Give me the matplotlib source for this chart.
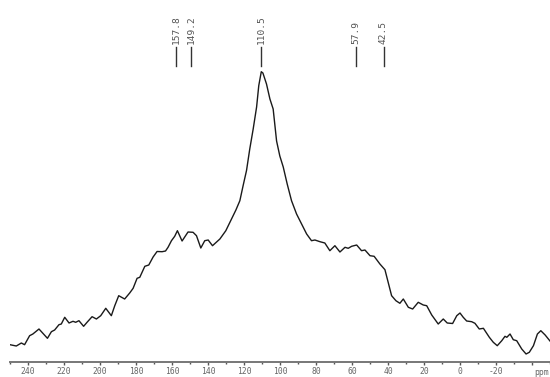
import numpy as np
import matplotlib.pyplot as plt
from matplotlib.ticker import MultipleLocator

# chemical shift (ppm) and intensity (arbitrary units)
ppm = [250.0, 246.5, 243.7, 241.9, 239.1, 237.3, 233.9, 231.7, 229.2, 227.0,
       225.2, 222.8, 221.5, 219.6, 217.2, 215.0, 213.5, 211.7, 209.1, 207.2,
       204.4, 202.0, 199.6, 196.8, 193.7, 191.8, 189.6, 186.3, 183.5, 181.6,
       179.4, 177.9, 175.1, 172.9, 170.5, 168.3, 165.5, 163.6, 162.2, 160.3,
       158.5, 157.0, 154.4, 151.1, 148.3, 146.4, 144.0, 141.8, 139.9, 137.5,
       133.4, 130.1, 126.9, 124.5, 122.3, 120.5, 118.6, 116.8, 114.9, 113.0,
       111.8, 110.4, 109.5, 107.5, 105.6, 103.8, 101.9, 100.1, 98.2, 96.0,
       93.6, 90.8, 88.0, 85.2, 82.5, 80.6, 77.8, 75.1, 72.3, 69.5,
       66.7, 63.9, 62.1, 60.2, 57.4, 54.7, 52.8, 50.0, 47.7, 44.5,
       41.7, 39.9, 38.0, 35.6, 33.4, 31.5, 28.7, 26.3, 23.2, 20.4,
       18.5, 15.7, 12.1, 9.3, 7.1, 4.1, 1.8, 0.0, -1.8, -3.7,
       -6.5, -8.3, -10.7, -13.0, -16.3, -18.5, -20.7, -23.2, -25.0, -26.0,
       -27.8, -29.6, -31.5, -34.3, -36.7, -38.5, -40.8, -43.0, -44.9, -47.3,
       -49.1, -50.0]
intensity = [17.3, 16.0, 19.0, 17.3, 26.3, 28.0, 33.0, 28.7, 23.7, 30.3,
             32.0, 37.3, 38.0, 44.7, 39.0, 40.7, 39.7, 41.3, 35.7, 39.7,
             45.3, 43.0, 46.3, 53.7, 46.3, 56.3, 66.3, 63.0, 69.0, 73.7,
             83.7, 84.7, 95.7, 97.0, 105.0, 110.5, 110.3, 111.0, 114.7, 121.3,
             125.7, 131.3, 121.0, 130.0, 129.7, 126.3, 114.0, 121.3, 122.0, 116.3,
             123.0, 131.3, 143.0, 152.0, 161.3, 176.3, 191.5, 213.0, 233.0, 255.0,
             276.3, 290.3, 289.0, 278.0, 263.0, 253.0, 221.0, 206.0, 195.0, 178.0,
             161.3, 148.0, 138.0, 128.0, 121.3, 122.0, 120.3, 119.0, 111.3, 116.3,
             110.0, 114.7, 113.7, 115.7, 117.0, 111.3, 112.0, 106.3, 105.7, 98.0,
             92.3, 79.7, 66.3, 61.3, 58.7, 63.0, 54.7, 53.0, 59.7, 57.0,
             56.3, 47.0, 38.0, 43.0, 39.0, 38.5, 46.3, 49.0, 44.7, 41.0,
             40.3, 38.7, 33.0, 33.7, 24.7, 19.7, 16.3, 21.3, 25.7, 24.7,
             28.0, 22.3, 21.3, 13.0, 8.0, 9.7, 16.3, 28.0, 31.3, 27.0,
             23.0, 21.0]

peak_labels = ["157.8", "149.2", "110.5", "57.9", "42.5"]
peak_pos = [157.8, 149.2, 110.5, 57.9, 42.5]

tick_pos = [240, 220, 200, 180, 160, 140, 120, 100, 80, 60, 40, 20, 0, -20, -40]
tick_labels = ["240", "220", "200", "180", "160", "140", "120", "100",
               "80", "60", "40", "20", "0", "-20", ""]

mono = "DejaVu Sans Mono"

fig = plt.figure(figsize=(5.5, 3.77), dpi=100)
ax = fig.add_axes([10 / 550, 15 / 377, 540 / 550, 362 / 377])

ax.plot(ppm, intensity, color="#1a1a1a", lw=1.0)

# peak markers
for lab, p in zip(peak_labels, peak_pos):
    ax.plot([p, p], [296, 315], color="#333333", lw=1.0)
    ax.text(p, 318, lab, rotation=90, ha="center", va="bottom",
            fontsize=6.8, family=mono, color="#555555")

ax.set_xlim(250, -50)
ax.set_ylim(0, 362)

for s in ["top", "left", "right"]:
    ax.spines[s].set_visible(False)
ax.spines["bottom"].set_color("#777777")
ax.spines["bottom"].set_linewidth(1.4)
ax.set_yticks([])

ax.set_xticks(tick_pos)
ax.set_xticklabels(tick_labels, family=mono, fontsize=5.8, color="#666666")
ax.xaxis.set_minor_locator(MultipleLocator(10))
ax.tick_params(axis="x", which="major", length=2.5, width=1.0, color="#555555", pad=1.0)
ax.tick_params(axis="x", which="minor", length=1.2, width=1.0, color="#555555")
ax.text(-41, -6, "ppm", ha="left", va="top", fontsize=5.8, family=mono,
        color="#666666", clip_on=False)

fig.savefig("out.png", dpi=100)
